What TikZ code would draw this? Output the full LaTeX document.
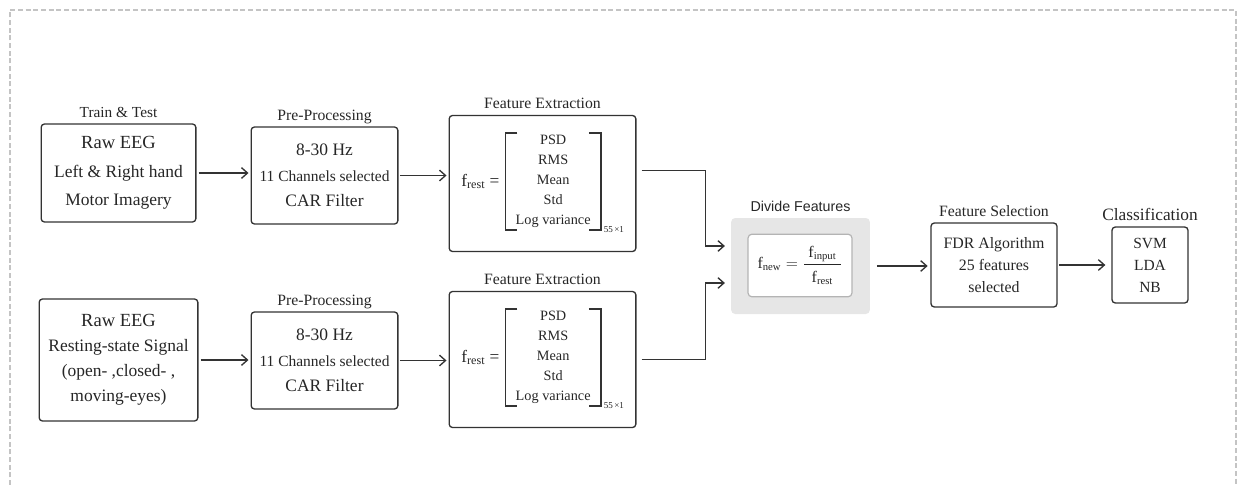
\documentclass[tikz,border=0pt]{standalone}
\usepackage{fontspec}
\setmainfont{Liberation Serif}
\setsansfont{Liberation Sans}
\setmathrm{Liberation Serif}
\usetikzlibrary{positioning,arrows.meta}
\definecolor{linegray}{HTML}{333333}
\definecolor{textgray}{HTML}{262626}
\definecolor{divfill}{HTML}{E6E6E6}
\definecolor{innerline}{HTML}{B4B4B4}
\definecolor{framegray}{HTML}{C4C4C4}
\tikzset{
  box/.style={draw=linegray, line width=1pt, rounded corners=2.5pt, align=center, text=textgray, inner sep=0pt},
  lab/.style={text=textgray, inner sep=0pt, text height=8pt, text depth=0pt, font=\fontsize{11.8}{14}\selectfont},
  flow/.style={draw=linegray, line width=1pt, -{Straight Barb[length=4.5pt,width=8pt]}},
  items/.style={align=center, text=textgray, inner xsep=7.5pt, inner ysep=1.5pt, font=\fontsize{10.7}{15}\selectfont},
}
\begin{document}
\begin{tikzpicture}[x=0.75pt, y=-0.75pt, node distance=4.5pt]
    \useasboundingbox (0,0) rectangle (1238,485);
    \draw[framegray, line width=1pt, dash pattern=on 3.75pt off 2pt] (10,485) -- (10,10) -- (1236,10) -- (1236,485);

    \node[box, minimum width=116pt, minimum height=73.5pt, font=\fontsize{13.1}{21.4}\selectfont] (raw1) at (118.5,173)
      {{\fontsize{13.9}{21.4}\selectfont Raw EEG}\\Left \& Right hand\\Motor Imagery};
    \node[lab, font=\fontsize{11.5}{14}\selectfont] (rawlab1) [above=of raw1] {Train \& Test};
    \node[box, minimum width=119pt, minimum height=91.5pt, font=\fontsize{13.1}{18.75}\selectfont] (raw2) at (118.5,360)
      {{\fontsize{13.9}{18.75}\selectfont Raw EEG}\\Resting-state Signal\\(open- ,closed- ,\\moving-eyes)};

    \foreach \r/\y/\fy in {1/175.5/183.5, 2/360.5/359.5} {
      \node[box, minimum width=110pt, minimum height=72.75pt, font=\fontsize{13.1}{19}\selectfont] (pre\r) at (324.5,\y)
        {8-30 Hz\\{\fontsize{11.6}{19}\selectfont 11 Channels selected}\\CAR Filter};
      \node[lab] (prelab\r) [above=of pre\r] {Pre-Processing};
      \node[box, minimum width=140pt, minimum height=102pt] (feat\r) at (542.5,\fy) {};
      \node[lab] (featlab\r) [above=of feat\r] {Feature Extraction};
      \node[items] (vec\r) at ([xshift=8pt,yshift=1.5pt]feat\r.center) {PSD\\RMS\\Mean\\Std\\Log variance};
      \draw[linegray, line width=1pt]
        ([xshift=9pt]vec\r.north west) -- (vec\r.north west) -- (vec\r.south west) -- ([xshift=9pt]vec\r.south west)
        ([xshift=-9pt]vec\r.north east) -- (vec\r.north east) -- (vec\r.south east) -- ([xshift=-9pt]vec\r.south east);
      \node[text=textgray, font=\fontsize{13}{14}\selectfont] (frest\r) [left=1pt of vec\r] {$\mathrm{f}_{\mathrm{rest}}$ =};
      \node[text=textgray, anchor=west, inner sep=0pt, font=\fontsize{6.8}{8}\selectfont] (dim\r) at ([xshift=2pt]vec\r.south east) {55\,×1};
      \draw[flow, shorten <=1.5pt, shorten >=1.5pt] (raw\r.east) -- (raw\r.east -| pre\r.west);
      \draw[flow, shorten <=1pt, shorten >=1.5pt] (pre\r.east) -- (pre\r.east -| feat\r.west);
    }

    \node[fill=divfill, rounded corners=3pt, minimum width=104pt, minimum height=72pt] (div) at (800.5,266) {};
    \node[lab, font=\sffamily\fontsize{10.7}{13}\selectfont] (divlab) [above=of div] {Divide Features};
    \node[draw=innerline, fill=white, line width=0.9pt, rounded corners=3pt, minimum width=78pt, minimum height=47pt,
      text=textgray, font=\fontsize{12}{14}\selectfont] (divin) at (800,265.5)
      {$\mathrm{f}_{\mathrm{new}} = \displaystyle\frac{\;\mathrm{f}_{\mathrm{input}}\rule[-4pt]{0pt}{4pt}\;}{\rule{0pt}{12pt}\mathrm{f}_{\mathrm{rest}}}$};

    \node[box, minimum width=94.5pt, minimum height=63pt, font=\fontsize{11.9}{16.5}\selectfont] (fs) at (994,265)
      {FDR Algorithm\\25 features\\selected};
    \node[lab] (fslab) [above=of fs] {Feature Selection};
    \node[box, minimum width=57pt, minimum height=57pt, font=\fontsize{11.6}{16.5}\selectfont] (cls) at (1150,265)
      {SVM\\LDA\\NB};
    \node[lab, font=\fontsize{13}{15}\selectfont] (clslab) [above=of cls] {Classification};

    \draw[flow, shorten <=3.75pt, shorten >=4.5pt] ([yshift=10pt]feat1.east) -- ++(69,0) |- ([yshift=15pt]div.west);
    \draw[flow, shorten <=3.75pt, shorten >=4.5pt] (feat2.east) -- ++(69,0) |- ([yshift=-12.75pt]div.west);
    \draw[flow, shorten <=5pt, shorten >=2pt] (div.east) -- (div.east -| fs.west);
    \draw[flow, shorten <=1pt, shorten >=4.5pt] (fs.east) -- (fs.east -| cls.west);
  \end{tikzpicture}
\end{document}
